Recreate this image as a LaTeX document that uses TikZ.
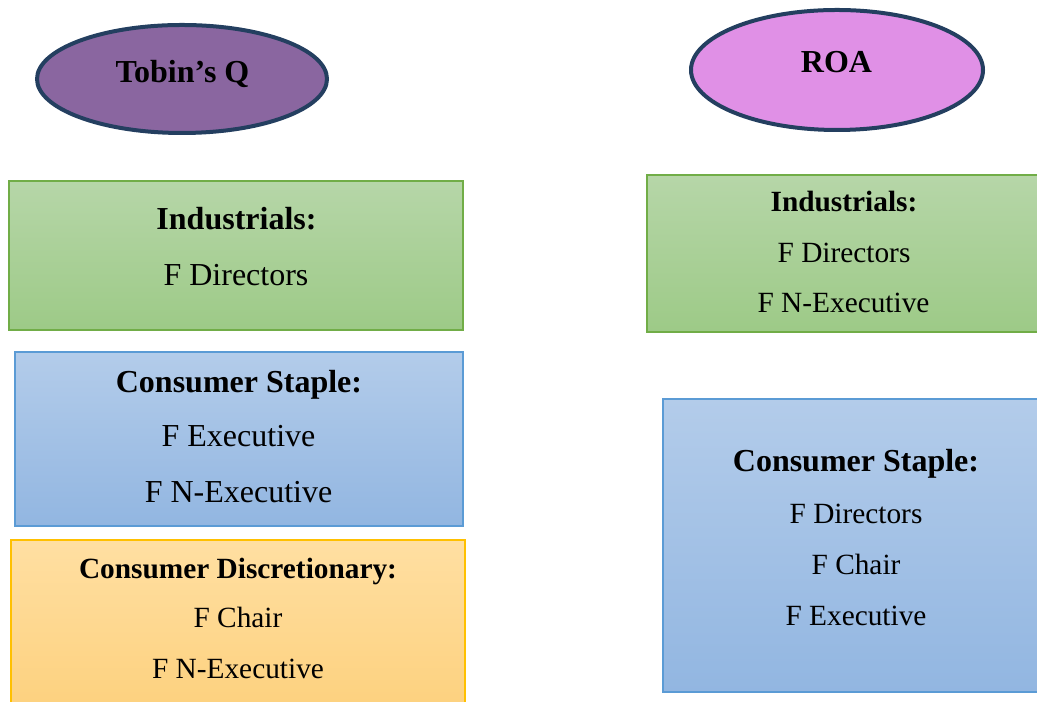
\documentclass[tikz,border=0pt]{standalone}
\usepackage{fontspec}
\setmainfont{Liberation Serif}
\usepackage{tikz}

\definecolor{ovalline}{HTML}{243F60}
\definecolor{tobinfill}{HTML}{8A66A0}
\definecolor{roafill}{HTML}{E090E6}
\definecolor{greenline}{HTML}{71AD47}
\definecolor{greentop}{HTML}{B6D6A8}
\definecolor{greenbot}{HTML}{9DCA87}
\definecolor{blueline}{HTML}{5B9BD5}
\definecolor{bluetop}{HTML}{B3CCEA}
\definecolor{bluebot}{HTML}{92B6E1}
\definecolor{orangeline}{HTML}{FFC000}
\definecolor{orangetop}{HTML}{FFDFA2}
\definecolor{orangebot}{HTML}{FDD17E}

\tikzset{
  txt/.style={anchor=base, inner sep=0pt, font=\fontsize{24}{28}\selectfont},
  head/.style={txt, font=\fontsize{24}{28}\selectfont\bfseries},
  stxt/.style={anchor=base, inner sep=0pt, font=\fontsize{22}{26}\selectfont},
  shead/.style={stxt, font=\fontsize{22}{26}\selectfont\bfseries},
  oval/.style={draw=ovalline, line width=3pt},
  greenbox/.style={draw=greenline, top color=greentop, bottom color=greenbot, line width=0.8pt},
  bluebox/.style={draw=blueline, top color=bluetop, bottom color=bluebot, line width=0.8pt},
  orangebox/.style={draw=orangeline, top color=orangetop, bottom color=orangebot, line width=0.8pt}
}

\begin{document}
\begin{tikzpicture}[x=0.75pt, y=0.75pt]
\useasboundingbox (0,0) rectangle (1037,702);
\clip (0,0) rectangle (1037,702);
% the two ovals
\draw[oval, fill=tobinfill] (182,623) ellipse [x radius=145, y radius=54];
\draw[oval, fill=roafill] (837,632) ellipse [x radius=146, y radius=60];
\node[head] (tobin) at (182.5,619) {Tobin’s Q};
\node[head] (roa) at (836.5,629) {ROA};
% left column
\draw[greenbox] (9,521) rectangle (463,372);
\node[head] (indL) at (236.5,472) {Industrials:};
\node[txt] (indLa) at (236,416) {F Directors};
\draw[bluebox] (15,350) rectangle (463,176);
\node[head] (csL) at (239,309) {Consumer Staple:};
\node[txt] (csLa) at (238.5,255) {F Executive};
\node[txt] (csLb) at (238.5,199) {F N-Executive};
\draw[orangebox] (11,162) rectangle (465,-8);
\node[shead] (cdL) at (238,123) {Consumer Discretionary:};
\node[stxt] (cdLa) at (238,74) {F Chair};
\node[stxt] (cdLb) at (238,23) {F N-Executive};
% right column
\draw[greenbox] (647,527) rectangle (1045,370);
\node[shead] (indR) at (844,490) {Industrials:};
\node[stxt] (indRa) at (844,439) {F Directors};
\node[stxt] (indRb) at (843.5,389) {F N-Executive};
\draw[bluebox] (663,303) rectangle (1045,10);
\node[head] (csR) at (856,230) {Consumer Staple:};
\node[stxt] (csRa) at (856,178) {F Directors};
\node[stxt] (csRb) at (856,127) {F Chair};
\node[stxt] (csRc) at (856,76) {F Executive};
\end{tikzpicture}
\end{document}
